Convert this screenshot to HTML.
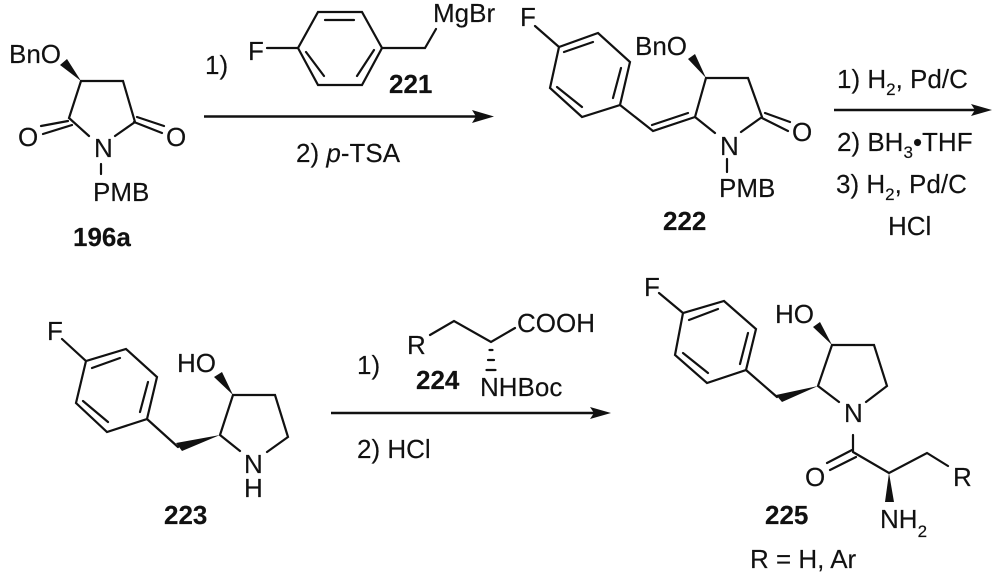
<!DOCTYPE html>
<html><head><meta charset="utf-8"><style>
html,body{margin:0;padding:0;background:#fff;width:1000px;height:577px;overflow:hidden}
svg{display:block}
text{font-family:"Liberation Sans",Arial,sans-serif;font-size:26px;fill:#111;stroke:#111;stroke-width:.15px}
.b{font-weight:bold}
.s{font-size:17px}
.i{font-style:italic}
.l{fill:none;stroke:#111;stroke-width:2.2;stroke-linecap:round;stroke-linejoin:miter}
.a{stroke:#111;stroke-width:2.6;fill:none}
.f{fill:#111;stroke:none}
</style></head><body>
<svg width="1000" height="577" viewBox="0 0 1000 577" xmlns="http://www.w3.org/2000/svg">
<!-- 196a -->
<path class="l" d="M81 81L123 81L135 122L115 136M89 136L69 118L81 81M68 121L41 126M72 125L43 134M137 117L164 126M134 122L162 133M101 164L101 174"/>
<polygon class="f" points="81,81 60,65 67,59"/>
<text x="9" y="63">BnO</text><text x="18" y="146">O</text><text x="166" y="146">O</text><text x="94" y="157">N</text><text x="93" y="201">PMB</text>
<text class="b" x="73" y="246">196a</text>
<!-- 221 -->
<path class="l" d="M267 48L298 48L318 12L362 12L382 48L362 85L318 85L298 48M325 20L354 20M306 52L324 76M357 76L374 50M382 48L425 48L436 29"/>
<text x="205" y="74">1)</text><text x="248" y="60">F</text><text x="433" y="22">MgBr</text>
<text class="b" x="389" y="93">221</text>
<path class="a" d="M204 116.5L478 116.5"/><polygon class="f" points="494,116.5 472,110 476,116.5 472,123"/>
<text x="296" y="162">2) <tspan class="i">p</tspan>-TSA</text>
<!-- 222 -->
<path class="l" d="M535 26L559 47L598 33L630 62L620 105L582 117L550 88L559 47M564 52L593 42M621 68L613 98M557 87L582 107M620 105L653 131L695 117M652 125L688 113M695 117L706 78L748 78L762 117L741 132M695 117L715 133M765 113L790 122M762 118L788 131M727 159L727 172"/>
<polygon class="f" points="706,78 688,59 695,54"/>
<text x="520" y="26">F</text><text x="635" y="55">BnO</text><text x="792" y="141">O</text><text x="720" y="155">N</text><text x="719" y="197">PMB</text>
<text class="b" x="663" y="230">222</text>
<text x="837" y="88">1) H<tspan class="s" dy="7">2</tspan><tspan dy="-7">, Pd/C</tspan></text>
<path class="a" d="M834 110L976 110"/><polygon class="f" points="992,110 971,104 975,110 971,116"/>
<text x="837" y="151">2) BH<tspan class="s" dy="7">3</tspan><tspan dy="-7">•THF</tspan></text>
<text x="836" y="193">3) H<tspan class="s" dy="7">2</tspan><tspan dy="-7">, Pd/C</tspan></text>
<text x="888" y="235">HCl</text>
<!-- 223 -->
<path class="l" d="M62 339L86 361L126 349L157 377L147 419L107 432L76 403L86 361M92 368L120 358M148 382L140 412M83 401L108 422M147 419L178 447M220 435L233 395L275 395L288 437L267 452M220 435L240 451"/>
<polygon class="f" points="220,435 176,443 182,451"/><polygon class="f" points="233,395 214,377 222,372"/>
<text x="47" y="340">F</text><text x="177" y="372">HO</text><text x="244" y="473">N</text><text x="244" y="497">H</text>
<text class="b" x="164" y="524">223</text>
<!-- 224 & arrow -->
<text x="357" y="374">1)</text><text x="357" y="458">2) HCl</text>
<path class="l" d="M430 335L454 321L491 342L515 328"/>
<path class="l" d="M489.500 350L492.500 350M488 360L494 360M486.500 370L495.500 370"/>
<text x="407" y="354">R</text><text x="517" y="332">COOH</text><text x="480" y="396">NHBoc</text>
<text class="b" x="416" y="389">224</text>
<path class="a" d="M331 413L595 413"/><polygon class="f" points="611,413 590,407 594,413 590,419"/>
<!-- 225 -->
<path class="l" d="M659 293L683 313L724 301L756 329L746 370L707 383L675 355L683 313M689 320L718 309M748 333L740 364M683 353L708 373M746 370L777 397M818 386L832 345L874 345L887 386L866 402M818 386L839 402M853 435L853 451M852 450L827 463M856 457L830 470M853 452L889 473L927 453L948 466"/>
<polygon class="f" points="818,386 776,395 782,402"/><polygon class="f" points="832,345 813,327 820,322"/><polygon class="f" points="889,473 885,502 894,502"/>
<text x="644" y="296">F</text><text x="775" y="323">HO</text><text x="844" y="422">N</text><text x="805" y="486">O</text><text x="953" y="486">R</text>
<text x="880" y="528">NH<tspan class="s" dy="9">2</tspan></text>
<text class="b" x="765" y="524">225</text>
<text x="750" y="568">R = H, Ar</text>
</svg>
</body></html>
